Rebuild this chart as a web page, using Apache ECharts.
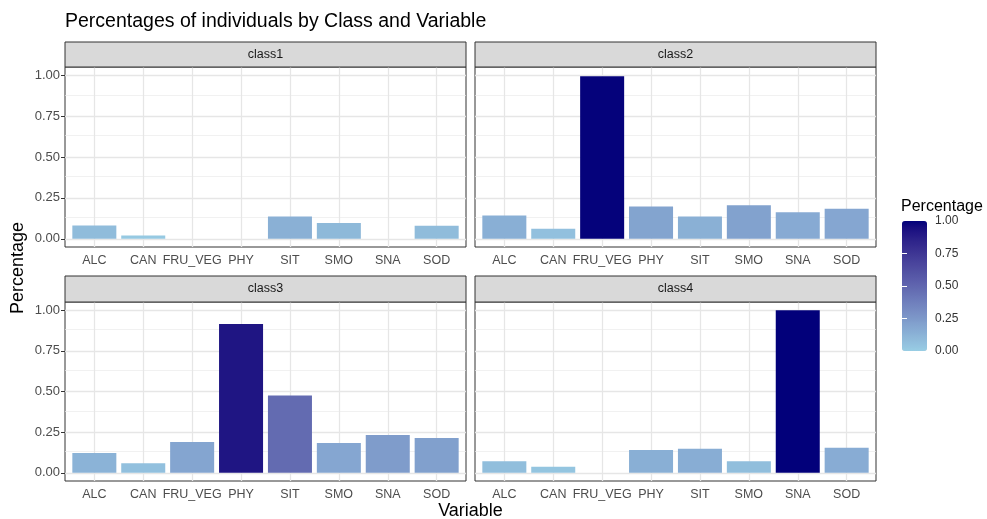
<!DOCTYPE html>
<html>
<head>
<meta charset="utf-8">
<script src="https://cdn.jsdelivr.net/npm/echarts@6/dist/echarts.min.js"></script>
<style>html,body{margin:0;padding:0;background:#fff;}#c{width:987px;height:519px;}</style>
</head>
<body>
<div id="c"></div>
<script>
// ---- data ----
const categories = ['ALC', 'CAN', 'FRU_VEG', 'PHY', 'SIT', 'SMO', 'SNA', 'SOD'];
const classNames = ['class1', 'class2', 'class3', 'class4'];
const class1 = [0.081, 0.020, 0, 0, 0.136, 0.096, 0, 0.080];
const class2 = [0.142, 0.061, 0.994, 0.197, 0.136, 0.205, 0.163, 0.183];
const class3 = [0.122, 0.059, 0.189, 0.915, 0.476, 0.183, 0.232, 0.215];
const class4 = [0.071, 0.037, 0, 0.140, 0.148, 0.071, 1.000, 0.154];
const yTicks = [0, 0.25, 0.5, 0.75, 1];
const yMinorTicks = [0.125, 0.375, 0.625, 0.875];
const legendTicks = [0.25, 0.5, 0.75];
const classValues = [class1, class2, class3, class4];

// ---- colour gradient (light blue -> navy, interpolated in CIELAB like ggplot) ----
function toLin(c){c/=255;return c<=0.04045?c/12.92:Math.pow((c+0.055)/1.055,2.4);}
function fromLin(c){const v=c<=0.0031308?12.92*c:1.055*Math.pow(c,1/2.4)-0.055;return Math.round(Math.max(0,Math.min(1,v))*255);}
const Xn=0.95047,Yn=1,Zn=1.08883;
function f(t){return t>0.008856?Math.cbrt(t):7.787*t+16/116;}
function finv(t){const t3=t*t*t;return t3>0.008856?t3:(t-16/116)/7.787;}
function rgb2lab(rgb){const r=toLin(rgb[0]),g=toLin(rgb[1]),b=toLin(rgb[2]);
  const X=0.4124564*r+0.3575761*g+0.1804375*b,Y=0.2126729*r+0.7151522*g+0.0721750*b,Z=0.0193339*r+0.1191920*g+0.9503041*b;
  const fx=f(X/Xn),fy=f(Y/Yn),fz=f(Z/Zn);return [116*fy-16,500*(fx-fy),200*(fy-fz)];}
function lab2rgb(lab){const fy=(lab[0]+16)/116,fx=fy+lab[1]/500,fz=fy-lab[2]/200;
  const X=finv(fx)*Xn,Y=finv(fy)*Yn,Z=finv(fz)*Zn;
  const r=3.2404542*X-1.5371385*Y-0.4985314*Z,g=-0.9692660*X+1.8760108*Y+0.0415560*Z,b=0.0556434*X-0.2040259*Y+1.0572252*Z;
  return 'rgb('+fromLin(r)+','+fromLin(g)+','+fromLin(b)+')';}
const lowLab=rgb2lab([152,205,228]), highLab=rgb2lab([2,0,122]);
const gradStops=[];
for(let i=0;i<=20;i++){const t=i/20;gradStops.push(lab2rgb([0,1,2].map(k=>lowLab[k]+(highLab[k]-lowLab[k])*t)));}

// ---- layout ----
const FONT = 'Liberation Sans, Arial, Helvetica, sans-serif';
const panels = [
  {left:65, top:67, width:401, height:180, stripTop:42},
  {left:475, top:67, width:401, height:180, stripTop:42},
  {left:65, top:302, width:401, height:179, stripTop:276},
  {left:475, top:302, width:401, height:179, stripTop:276}
];
const xPos = categories.map((c,i)=>i+1);

const grids=[], xAxes=[], yAxes=[], series=[], graphics=[];
panels.forEach((p,i)=>{
  grids.push({left:p.left, top:p.top, width:p.width, height:p.height, show:true,
    backgroundColor:'#fff', borderColor:'#333333', borderWidth:1, containLabel:false});
  xAxes.push({type:'value', gridIndex:i, min:0.4, max:8.6,
    axisLine:{show:false}, splitLine:{show:false},
    axisTick:{show:true, length:4, customValues:xPos, lineStyle:{color:'#333333'}},
    axisLabel:{show:true, customValues:xPos, margin:7, fontSize:12.5, color:'#4d4d4d', fontFamily:FONT,
      formatter:v=>categories[Math.round(v)-1]}});
  const leftCol = (i%2===0);
  yAxes.push({type:'value', gridIndex:i, min:-0.05, max:1.05,
    axisLine:{show:false}, splitLine:{show:false},
    axisTick:{show:leftCol, length:4, customValues:yTicks, lineStyle:{color:'#333333'}},
    axisLabel:{show:leftCol, customValues:yTicks, margin:5, fontSize:13, color:'#4d4d4d', fontFamily:FONT,
      formatter:v=>v.toFixed(2)}});
  const ml = [];
  yMinorTicks.forEach(v=>ml.push({yAxis:v, lineStyle:{color:'#EBEBEB', width:0.7, type:'solid'}}));
  yTicks.forEach(v=>ml.push({yAxis:v, lineStyle:{color:'#E6E6E6', width:1.3, type:'solid'}}));
  xPos.forEach(v=>ml.push({xAxis:v, lineStyle:{color:'#E6E6E6', width:1.3, type:'solid'}}));
  series.push({type:'bar', name:classNames[i], xAxisIndex:i, yAxisIndex:i, z:3,
    barWidth:'90%', animation:false,
    data: classValues[i].map((v,j)=>[xPos[j], v]),
    markLine:{silent:true, symbol:['none','none'], z:1, animation:false, label:{show:false},
      emphasis:{disabled:true}, data:ml}});
  graphics.push({type:'rect', shape:{x:p.left, y:p.stripTop, width:p.width, height:p.top-p.stripTop},
    style:{fill:'#D9D9D9', stroke:'#333333', lineWidth:1}, z:5});
  graphics.push({type:'text', x:p.left+p.width/2, y:(p.stripTop+p.top)/2, z:6,
    style:{text:classNames[i], textAlign:'center', textVerticalAlign:'middle', fontSize:12.5,
      fill:'#1a1a1a', fontFamily:FONT}});
});

// colourbar axes (legend labels/ticks)
grids.push({left:902, top:221, width:25, height:130, show:false});
xAxes.push({type:'value', gridIndex:4, show:false, min:0, max:1});
yAxes.push({type:'value', gridIndex:4, position:'right', min:0, max:1, interval:0.25, z:10,
  axisLine:{show:false}, splitLine:{show:false},
  axisTick:{show:true, inside:true, length:5, customValues:legendTicks, lineStyle:{color:'#ffffff', width:1}},
  axisLabel:{show:true, margin:8, fontSize:12, color:'#333333', fontFamily:FONT, formatter:v=>v.toFixed(2)}});
yAxes.push({type:'value', gridIndex:4, position:'left', min:0, max:1, interval:0.25, z:10,
  axisLine:{show:false}, splitLine:{show:false},
  axisTick:{show:true, inside:true, length:5, customValues:legendTicks, lineStyle:{color:'#ffffff', width:1}},
  axisLabel:{show:false}});

graphics.push({type:'text', x:18, y:268, rotation:Math.PI/2,
  style:{text:'Percentage', textAlign:'center', textVerticalAlign:'middle', fontSize:18, fill:'#000', fontFamily:FONT}});
graphics.push({type:'text', x:470.5, y:511,
  style:{text:'Variable', textAlign:'center', textVerticalAlign:'middle', fontSize:18, fill:'#000', fontFamily:FONT}});

const option = {
  animation:false,
  backgroundColor:'#ffffff',
  title:[
    {text:'Percentages of individuals by Class and Variable', left:65, top:12, padding:0,
      textStyle:{fontSize:19.5, fontWeight:'normal', color:'#000', fontFamily:FONT}},
    {text:'Percentage', left:901, top:199, padding:0,
      textStyle:{fontSize:16, fontWeight:'normal', color:'#000', fontFamily:FONT}}
  ],
  grid:grids, xAxis:xAxes, yAxis:yAxes, series:series,
  visualMap:{type:'continuous', min:0, max:1, dimension:1, seriesIndex:[0,1,2,3],
    calculable:false, hoverLink:false, left:902, top:221, itemWidth:25, itemHeight:130,
    padding:0, text:null, showLabel:false, inRange:{color:gradStops}},
  graphic:graphics
};
const chart = echarts.init(document.getElementById('c'), null, {renderer:'canvas'});
chart.setOption(option);
</script>
</body>
</html>
